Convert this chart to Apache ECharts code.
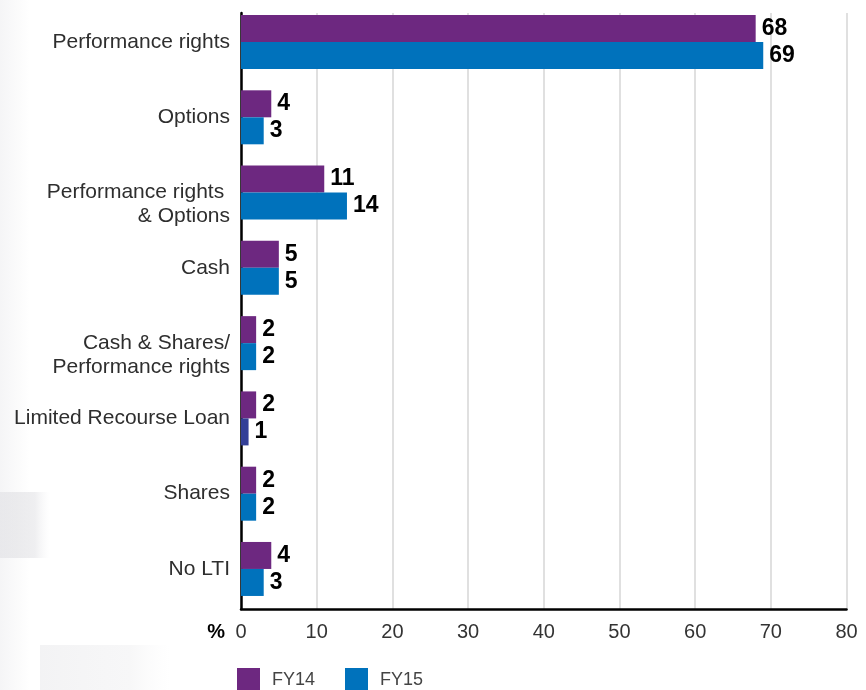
<!DOCTYPE html>
<html>
<head>
<meta charset="utf-8">
<script src="https://cdn.jsdelivr.net/npm/echarts@6/dist/echarts.min.js"></script>
<style>
  html, body { margin: 0; padding: 0; background: #fff; }
  #chart { width: 866px; height: 690px; }
</style>
</head>
<body>
<div id="chart"></div>
<script>
// LTI vehicle prevalence, % of companies
const categories = [
  'Performance rights',
  'Options',
  'Performance rights \n& Options',
  'Cash',
  'Cash & Shares/\nPerformance rights',
  'Limited Recourse Loan',
  'Shares',
  'No LTI'
];
const fy14 = [68, 4, 11, 5, 2, 2, 2, 4];
const fy15 = [69, 3, 14, 5, 2, 1, 2, 3];
const xTicks = [0, 10, 20, 30, 40, 50, 60, 70, 80];
const seriesNames = ['FY14', 'FY15'];

const PURPLE = '#6d2880';
const BLUE = '#0072bc';
const NAVY = '#333f97';
const FONT = 'Liberation Sans, Arial, sans-serif';

const LEFT = 241, RIGHT = 19.5;
const valueLabel = {
  show: true,
  position: 'right',
  distance: 6,
  color: '#000',
  fontFamily: FONT,
  fontWeight: 'bold',
  fontSize: 23
};

// soft vertical fade used for the faint backdrop shapes
function fade(a) {
  return new echarts.graphic.LinearGradient(0, 0, 1, 0, [
    { offset: 0, color: 'rgba(200,200,206,' + a + ')' },
    { offset: 0.7, color: 'rgba(210,210,215,' + (a * 0.8) + ')' },
    { offset: 1, color: 'rgba(230,230,235,0)' }
  ]);
}

const chart = echarts.init(document.getElementById('chart'));
chart.setOption({
  backgroundColor: '#fff',
  animation: false,
  graphic: [
    { type: 'rect', silent: true, z: -10, shape: { x: 0, y: 492, width: 50, height: 66 },
      style: { fill: fade(0.45) } },
    { type: 'rect', silent: true, z: -10, shape: { x: 40, y: 645, width: 130, height: 45 },
      style: { fill: fade(0.22) } },
    { type: 'rect', silent: true, z: -10, shape: { x: 0, y: 0, width: 30, height: 690 },
      style: { fill: new echarts.graphic.LinearGradient(0, 0, 1, 0, [
        { offset: 0, color: 'rgba(235,235,238,0.5)' },
        { offset: 1, color: 'rgba(235,235,238,0)' }
      ]) } },
    // unit marker beside the value axis
    { type: 'text', silent: true, x: 225, y: 632,
      style: { text: '%', fill: '#000', font: 'bold 20px ' + FONT, align: 'right', verticalAlign: 'middle' } }
  ],
  legend: {
    data: seriesNames,
    left: 237,
    top: 668,
    padding: 0,
    itemWidth: 23,
    itemHeight: 24,
    itemGap: 30,
    icon: 'rect',
    textStyle: {
      color: '#444',
      fontFamily: FONT,
      fontSize: 18,
      padding: [0, 0, 0, 7]
    }
  },
  grid: [
    // frame: axis lines, grid lines, tick labels
    { left: LEFT, right: RIGHT, top: 13, bottom: 690 - 609, containLabel: false },
    // bars
    { left: LEFT, right: RIGHT, top: 4.4, bottom: 690 - 606.6, containLabel: false }
  ],
  xAxis: [
    {
      gridIndex: 0,
      type: 'value',
      min: 0, max: 80, interval: 10,
      axisLine: { show: true, lineStyle: { color: '#000', width: 2.5 } },
      axisTick: { show: false },
      splitLine: { show: true, lineStyle: { color: '#d6d6d6', width: 1.5 } },
      axisLabel: {
        margin: 13,
        color: '#333',
        fontFamily: FONT,
        fontSize: 20,
        formatter: v => xTicks.includes(v) ? String(v) : ''
      }
    },
    {
      gridIndex: 1,
      type: 'value',
      min: 0, max: 80, interval: 10,
      show: false
    }
  ],
  yAxis: [
    {
      gridIndex: 0,
      type: 'value',
      min: 0, max: 1,
      axisLine: { show: true, onZero: false, lineStyle: { color: '#000', width: 2.5 } },
      axisTick: { show: false },
      axisLabel: { show: false },
      splitLine: { show: false }
    },
    {
      gridIndex: 1,
      type: 'category',
      inverse: true,
      data: categories,
      axisLine: { show: false },
      axisTick: { show: false },
      splitLine: { show: false },
      axisLabel: {
        margin: 11,
        color: '#2e2e2e',
        fontFamily: FONT,
        fontSize: 21,
        lineHeight: 24,
        align: 'right',
        // two-line names sit with their first line on the band centre
        formatter: v => v.includes('\n') ? '\n' + v : v
      }
    }
  ],
  series: [
    {
      name: seriesNames[0],
      type: 'bar',
      xAxisIndex: 1,
      yAxisIndex: 1,
      data: fy14,
      barWidth: 27,
      barGap: '0%',
      itemStyle: { color: PURPLE },
      label: valueLabel
    },
    {
      name: seriesNames[1],
      type: 'bar',
      xAxisIndex: 1,
      yAxisIndex: 1,
      data: fy15.map((v, i) => categories[i] === 'Limited Recourse Loan'
        ? { value: v, itemStyle: { color: NAVY } }
        : v),
      barWidth: 27,
      barGap: '0%',
      itemStyle: { color: BLUE },
      label: valueLabel
    }
  ]
});
</script>
</body>
</html>
